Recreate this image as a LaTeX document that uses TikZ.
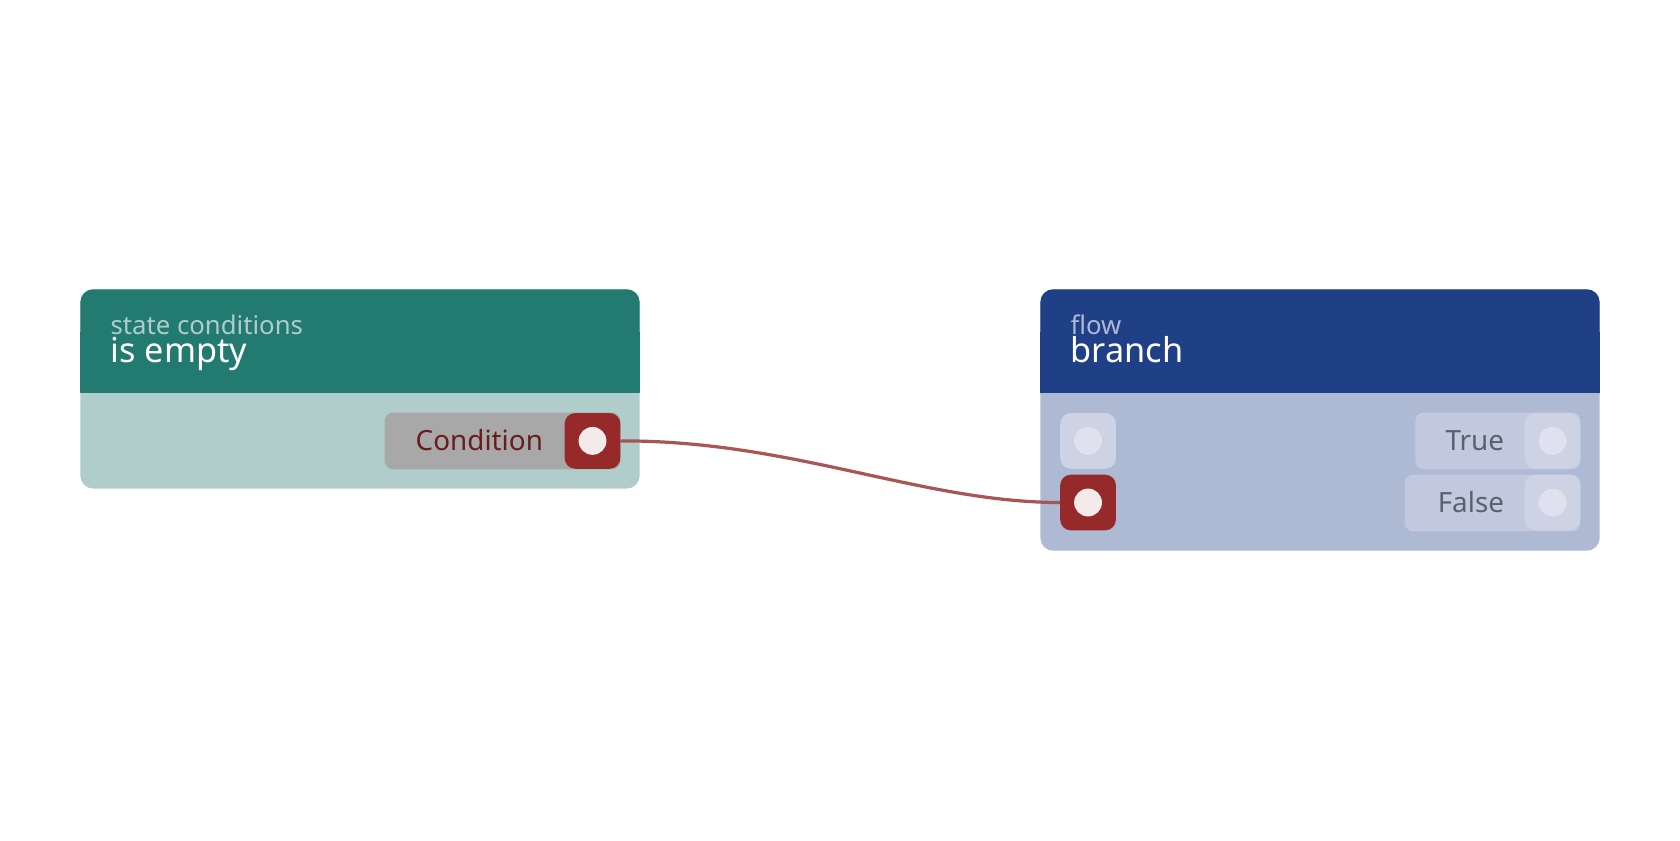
\documentclass[tikz,border=0pt]{standalone}
\usepackage{fontspec}
\setmainfont{Noto Sans}
\usetikzlibrary{positioning}
\definecolor{tealhead}{HTML}{227A70}
\definecolor{tealbody}{HTML}{B0CCCB}
\definecolor{bluehead}{HTML}{1F3F87}
\definecolor{bluebody}{HTML}{AEB9D3}
\definecolor{portred}{HTML}{962A2A}
\definecolor{portdot}{HTML}{F3EAEA}
\definecolor{wirered}{HTML}{A85555}
\definecolor{pillgray}{HTML}{A8A8A8}
\definecolor{pillblue}{HTML}{C2C9DE}
\definecolor{portblue}{HTML}{CDD3E4}
\definecolor{dotblue}{HTML}{DFE2EE}
\definecolor{labelgray}{HTML}{5A6070}
\def\fs#1{\fontsize{#1}{#1}\selectfont}
\begin{document}
\begin{tikzpicture}[x=1pt,y=-1pt,
	port/.style={rounded corners=10pt,minimum width=52pt,minimum height=52pt,inner sep=0pt,outer sep=0pt},
	dot/.style={circle,minimum size=26pt,inner sep=0pt}]
	\useasboundingbox (0,0) rectangle (1568,784);

	% left node
	\fill[tealbody,rounded corners=12pt] (75,270) rectangle (597,456);
	\fill[tealhead,rounded corners=12pt] (75,270) rectangle (597,330);
	\fill[tealhead] (75,310) rectangle (597,367);
	\node[anchor=base west,text=tealbody,inner sep=0pt] (sc_cat) at (103,312) {\fs{24}state conditions};
	\node[anchor=base west,text=white,inner sep=0pt] (sc_name) at (103,338) {\fs{32}is empty};
	\fill[pillgray,rounded corners=8pt] (359,385) rectangle (579,438);
	\node[anchor=base east,text=portred!70!black,inner sep=0pt] (cond_lbl) at (507,420) {\fs{26}Condition};
	\node[port,fill=portred] (cond) at (553,411.5) {};
	\node[dot,fill=portdot] at (cond) {};

	% right node
	\fill[bluebody,rounded corners=12pt] (971,270) rectangle (1493,514);
	\fill[bluehead,rounded corners=12pt] (971,270) rectangle (1493,330);
	\fill[bluehead] (971,310) rectangle (1493,367);
	\node[anchor=base west,text=bluebody,inner sep=0pt] (br_cat) at (999,312) {\fs{24}flow};
	\node[anchor=base west,text=white,inner sep=0pt] (br_name) at (999,338) {\fs{32}branch};

	\node[port,fill=portblue] (flow_in) at (1015.5,411.5) {};
	\node[dot,fill=dotblue] at (flow_in) {};
	\node[port,fill=portred] (cond_in) at (1015.5,469) {};
	\node[dot,fill=portdot] at (cond_in) {};

	\fill[pillblue,rounded corners=8pt] (1321,385) rectangle (1475,438);
	\node[anchor=base east,text=labelgray,inner sep=0pt] (true_lbl) at (1404,420) {\fs{26}True};
	\node[port,fill=portblue] (true_out) at (1449,411.5) {};
	\node[dot,fill=dotblue] at (true_out) {};
	\fill[pillblue,rounded corners=8pt] (1311,443) rectangle (1475,496);
	\node[anchor=base east,text=labelgray,inner sep=0pt] (false_lbl) at (1404,478) {\fs{26}False};
	\node[port,fill=portblue] (false_out) at (1449,469) {};
	\node[dot,fill=dotblue] at (false_out) {};

	\draw[wirered,line width=3pt] (cond.east) .. controls (740,411) and (860,469) .. (cond_in.west);
\end{tikzpicture}
\end{document}
